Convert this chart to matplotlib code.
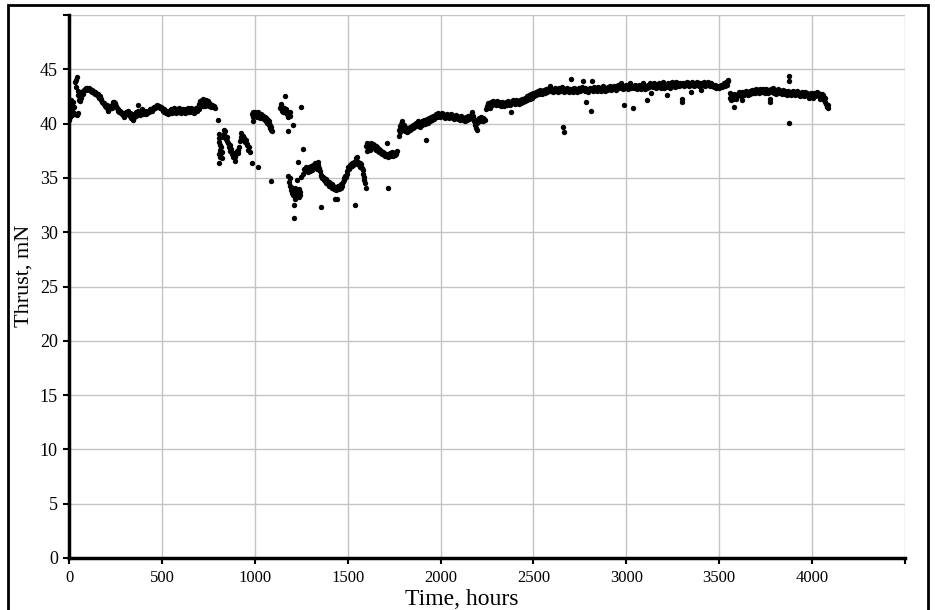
import matplotlib
matplotlib.use("Agg")
import matplotlib.pyplot as plt
from matplotlib.patches import Rectangle

# thrust readings (hours, mN), split by run section
seg_start = [(1, 40.3), (2, 41.0), (3, 41.6), (5, 42.1), (6, 40.6), (8, 41.9), (10, 42.2), (12, 41.3),
             (14, 40.8), (16, 41.7), (19, 42.0), (22, 41.1), (25, 40.9), (28, 41.5), (32, 43.8), (36, 44.0),
             (40, 43.4), (42, 40.8), (44, 44.3), (46, 43.0), (48, 41.0), (50, 42.6), (53, 42.2), (56, 42.5),
             (60, 42.1), (63, 42.8), (66, 42.4), (70, 42.9), (74, 43.0), (78, 42.7), (82, 43.1), (86, 43.2),
             (90, 43.3), (94, 43.1), (98, 43.3), (102, 43.2), (106, 43.3), (110, 43.1), (114, 43.2),
             (118, 43.0), (122, 43.1), (126, 42.9), (130, 43.0)]

seg_decay = [(134, 42.8), (138, 42.9), (142, 42.7), (146, 42.8), (150, 42.6), (154, 42.7), (158, 42.5),
             (162, 42.4), (166, 42.5), (170, 42.2), (174, 42.3), (178, 42.0), (182, 41.9), (186, 41.8),
             (190, 41.9), (194, 41.6), (198, 41.5), (202, 41.7), (206, 41.4), (210, 41.2), (214, 41.4),
             (218, 41.3), (222, 41.5), (226, 41.6), (230, 41.4), (234, 41.7), (238, 42.0), (242, 42.0),
             (246, 41.8), (250, 41.9), (254, 41.6), (258, 41.4), (262, 41.2), (266, 41.3), (270, 41.1),
             (274, 41.2), (278, 41.0), (282, 41.1), (286, 40.9), (290, 40.8), (294, 40.6), (298, 40.7),
             (302, 41.0), (306, 41.1), (310, 40.9), (314, 41.0), (318, 41.2), (322, 40.8), (326, 41.0),
             (330, 40.7), (334, 40.5), (338, 40.9), (342, 40.4), (346, 40.3), (350, 40.6), (354, 40.9),
             (358, 41.1), (362, 40.7), (366, 41.0), (370, 41.2), (374, 41.7), (378, 41.0), (382, 40.8),
             (386, 41.1), (390, 41.0), (394, 41.3), (398, 40.9)]

seg_flat = [(402, 41.1), (406, 41.0), (410, 41.2), (414, 40.9), (418, 41.1), (422, 41.0), (426, 41.2),
            (430, 41.1), (434, 41.3), (438, 41.2), (442, 41.3), (446, 41.2), (450, 41.4), (454, 41.3),
            (458, 41.5), (462, 41.4), (466, 41.6), (470, 41.5), (474, 41.7), (478, 41.6), (482, 41.5),
            (486, 41.6), (490, 41.4), (494, 41.5), (498, 41.3), (502, 41.4), (506, 41.2), (510, 41.3),
            (514, 41.1), (518, 41.2), (522, 41.0), (526, 41.2), (530, 41.1), (534, 40.9), (538, 41.2),
            (542, 41.0), (546, 41.1), (550, 41.3), (554, 41.0), (558, 41.2), (562, 41.1), (566, 41.4),
            (570, 41.2), (574, 41.0), (578, 41.3), (582, 41.1), (586, 41.2), (590, 41.4), (594, 41.1),
            (598, 41.3), (602, 41.0), (606, 41.2), (610, 41.1), (614, 41.3), (618, 41.2), (622, 41.0),
            (626, 41.2), (630, 41.3), (634, 41.1), (638, 41.2), (642, 41.4), (646, 41.1), (650, 41.3),
            (654, 41.2), (658, 41.4), (662, 41.1), (666, 41.3), (670, 41.2), (674, 41.0), (678, 41.3),
            (682, 41.2), (686, 41.4), (690, 41.2), (694, 41.5), (698, 41.3),
            (701, 41.8), (704, 42.1), (706, 41.6), (709, 42.0), (711, 41.7), (714, 42.2), (716, 41.9),
            (719, 41.6), (721, 42.3), (724, 42.0), (726, 41.8), (729, 42.2), (731, 41.6), (734, 42.0),
            (736, 41.9), (739, 42.2), (741, 41.7), (744, 42.0), (746, 41.8), (749, 42.1), (752, 41.9),
            (756, 41.6), (760, 41.8), (764, 41.5), (768, 41.7), (773, 41.6), (778, 41.5), (783, 41.6),
            (788, 41.4)]

seg_drop1 = [(803, 40.3), (805, 39.0), (806, 38.7), (808, 36.4), (809, 37.2), (810, 38.3), (812, 37.6),
             (814, 36.9), (815, 38.0), (818, 37.3), (820, 37.8), (822, 36.8), (825, 37.4), (828, 38.8),
             (832, 39.4), (836, 39.0), (840, 39.3), (844, 38.6), (848, 38.8), (852, 38.4), (856, 38.2),
             (860, 37.8), (864, 38.0), (868, 37.5), (872, 37.7), (876, 37.2), (880, 37.4), (884, 36.9),
             (888, 37.0), (892, 36.6), (896, 36.9), (900, 37.2), (904, 37.5), (908, 37.3), (912, 37.6),
             (916, 37.8), (920, 38.4), (924, 38.8), (928, 39.1), (932, 38.6), (936, 38.9), (940, 38.5),
             (944, 38.7), (948, 38.3), (952, 38.5), (956, 38.1), (960, 38.0), (964, 37.6), (968, 37.8),
             (972, 37.4), (983, 36.4), (1016, 36.0)]

seg_recover1 = [(985, 40.9), (988, 41.1), (990, 40.6), (992, 40.2), (993, 41.0), (996, 40.8), (999, 41.1),
                (1002, 40.7), (1005, 40.9), (1008, 41.0), (1011, 40.6), (1014, 40.8), (1017, 40.9),
                (1020, 41.1), (1023, 40.7), (1026, 40.8), (1029, 40.5), (1032, 40.9), (1035, 40.6),
                (1038, 40.8), (1041, 40.5), (1044, 40.7), (1047, 40.4), (1050, 40.6), (1053, 40.3),
                (1056, 40.6), (1059, 40.5), (1062, 40.2), (1065, 40.4), (1068, 40.1), (1071, 40.3),
                (1074, 39.9), (1077, 40.2), (1080, 39.6), (1083, 39.9), (1086, 39.4), (1090, 39.7),
                (1094, 39.3), (1136, 41.4), (1139, 41.8), (1142, 41.6), (1145, 41.2), (1148, 41.5),
                (1151, 41.3), (1154, 41.1), (1157, 41.4), (1160, 42.5), (1163, 41.2), (1166, 41.0),
                (1169, 41.3), (1172, 40.9), (1175, 41.1), (1178, 40.6), (1181, 41.0), (1184, 40.8),
                (1187, 41.1), (1190, 40.7), (1177, 39.3), (1204, 39.9), (1247, 41.5)]

seg_drop2 = [(1086, 34.7), (1177, 35.2), (1185, 34.6), (1188, 34.3), (1190, 35.0), (1193, 33.9), (1196, 34.2),
             (1199, 33.6), (1202, 34.0), (1205, 33.4), (1208, 33.8), (1210, 32.5), (1212, 31.3), (1214, 33.1),
             (1216, 33.7), (1219, 34.1), (1222, 33.3), (1225, 34.8), (1228, 33.9), (1231, 36.5), (1234, 33.5),
             (1237, 34.0), (1240, 33.2), (1243, 33.7), (1246, 33.4), (1250, 35.1), (1258, 37.7), (1262, 35.4),
             (1266, 35.8), (1270, 35.6), (1274, 36.0), (1278, 35.7), (1282, 35.9), (1286, 35.5), (1290, 36.0),
             (1294, 35.8), (1298, 35.6), (1302, 36.1), (1306, 35.9), (1310, 35.7), (1314, 36.2), (1318, 36.0),
             (1322, 36.4), (1326, 36.1), (1330, 36.3), (1334, 35.8), (1338, 36.5), (1342, 36.2), (1346, 35.9),
             (1350, 35.6), (1354, 35.2), (1355, 32.3), (1358, 35.3), (1362, 35.0), (1366, 35.1), (1370, 34.8),
             (1374, 35.0), (1378, 34.7), (1382, 34.9), (1386, 34.5), (1390, 34.7), (1394, 34.4), (1398, 34.6),
             (1402, 34.3), (1406, 34.5), (1410, 34.2), (1414, 34.4), (1418, 34.1), (1422, 34.3), (1426, 34.0),
             (1430, 33.1), (1434, 34.2), (1438, 33.9), (1442, 33.1), (1446, 34.1), (1450, 34.3), (1454, 34.0),
             (1458, 34.2), (1462, 34.4), (1466, 34.1), (1470, 34.3), (1474, 34.6), (1478, 34.8), (1482, 35.0),
             (1486, 35.2), (1490, 35.1), (1494, 35.4), (1498, 35.6), (1502, 36.0), (1506, 35.8), (1510, 36.2),
             (1514, 36.0), (1518, 36.3), (1522, 36.1), (1526, 36.4), (1530, 36.2), (1534, 36.5), (1538, 32.5),
             (1540, 36.3), (1544, 36.8), (1548, 36.4), (1552, 36.9), (1556, 36.5), (1560, 36.2), (1564, 36.4),
             (1568, 36.0), (1572, 36.3), (1576, 35.9), (1580, 35.7), (1584, 35.4), (1588, 35.1), (1590, 34.8),
             (1593, 34.5), (1596, 34.1)]

seg_rise1 = [(1600, 37.9), (1603, 38.2), (1606, 37.5), (1610, 37.8), (1614, 38.1), (1618, 37.6), (1622, 38.0),
             (1626, 38.2), (1630, 37.8), (1634, 38.1), (1638, 37.9), (1642, 38.0), (1646, 37.7), (1650, 37.9),
             (1654, 37.6), (1658, 37.8), (1662, 37.5), (1666, 37.7), (1670, 37.4), (1674, 37.6), (1678, 37.3),
             (1682, 37.5), (1686, 37.2), (1690, 37.4), (1694, 37.1), (1698, 37.3), (1702, 37.0), (1706, 37.2),
             (1710, 38.2), (1714, 37.1), (1715, 34.1), (1718, 36.9), (1722, 37.2), (1726, 37.0), (1730, 37.3),
             (1734, 37.1), (1738, 37.4), (1742, 37.2), (1746, 37.0), (1750, 37.3), (1754, 37.1), (1758, 37.4),
             (1762, 37.2), (1766, 37.5)]

seg_rise2 = [(1775, 38.9), (1778, 39.4), (1781, 39.8), (1784, 39.2), (1787, 40.0), (1790, 39.6), (1793, 40.2),
             (1796, 39.8), (1799, 39.5), (1802, 39.9), (1805, 39.4), (1808, 39.7), (1811, 39.3), (1814, 39.6),
             (1818, 39.2), (1822, 39.5), (1826, 39.3), (1830, 39.6), (1834, 39.4), (1838, 39.7), (1842, 39.5),
             (1846, 39.8), (1850, 39.6), (1854, 39.9), (1858, 39.7), (1862, 40.0), (1866, 39.8), (1870, 40.1),
             (1874, 39.9), (1878, 40.2), (1882, 39.9), (1886, 40.1), (1890, 39.7), (1894, 40.0), (1898, 40.2),
             (1902, 39.9), (1906, 40.1), (1910, 40.3), (1914, 40.0), (1919, 38.5), (1922, 40.2), (1926, 40.4),
             (1930, 40.1), (1934, 40.3), (1938, 40.5), (1942, 40.2), (1946, 40.4), (1950, 40.6), (1954, 40.3),
             (1958, 40.5), (1962, 40.7), (1966, 40.4), (1970, 40.6), (1974, 40.8)]

seg_mid = [(1978, 40.9), (1982, 40.6), (1986, 41.0), (1990, 40.7), (1994, 40.9), (1998, 40.6), (2002, 40.8),
           (2006, 41.0), (2010, 40.7), (2014, 40.9), (2018, 40.6), (2022, 40.8), (2026, 40.5), (2030, 40.7),
           (2034, 40.9), (2038, 40.6), (2042, 40.8), (2046, 40.5), (2050, 40.7), (2054, 40.9), (2058, 40.6),
           (2062, 40.8), (2066, 40.5), (2070, 40.7), (2074, 40.4), (2078, 40.6), (2082, 40.8), (2086, 40.5),
           (2090, 40.7), (2094, 40.4), (2098, 40.6), (2102, 40.3), (2106, 40.5), (2110, 40.7), (2114, 40.4),
           (2118, 40.6), (2122, 40.3), (2126, 40.5), (2130, 40.2), (2134, 40.4), (2138, 40.6), (2142, 40.3),
           (2146, 40.5), (2150, 40.7), (2154, 40.4), (2158, 40.6), (2162, 40.8), (2166, 40.5), (2170, 41.1),
           (2174, 40.7), (2178, 40.4), (2182, 40.2), (2186, 39.9), (2190, 39.6), (2194, 40.1), (2198, 39.4),
           (2202, 40.3), (2206, 40.5), (2210, 40.2), (2214, 40.4), (2218, 40.6), (2222, 40.3), (2226, 40.5),
           (2230, 40.2), (2234, 40.4), (2238, 40.3)]

seg_climb = [(2245, 41.3), (2250, 41.6), (2255, 41.9), (2260, 41.5), (2264, 41.7), (2268, 41.4), (2272, 42.0),
             (2276, 41.7), (2280, 41.9), (2284, 42.1), (2288, 41.8), (2292, 42.0), (2296, 41.7), (2300, 41.9),
             (2304, 42.1), (2308, 41.8), (2312, 42.0), (2316, 41.7), (2320, 41.9), (2324, 41.6), (2328, 41.8),
             (2332, 42.0), (2336, 41.7), (2340, 41.9), (2344, 41.6), (2348, 41.8), (2352, 42.0), (2356, 41.7),
             (2360, 41.9), (2364, 42.1), (2368, 41.8), (2372, 42.0), (2376, 41.7), (2381, 41.1), (2384, 41.9),
             (2388, 42.2), (2392, 41.9), (2396, 42.1), (2400, 41.8), (2404, 42.0), (2408, 42.2), (2412, 41.9),
             (2416, 42.1), (2420, 41.8), (2424, 42.0), (2428, 42.2), (2432, 41.9), (2436, 42.1), (2440, 42.3),
             (2444, 42.0), (2448, 42.2), (2452, 42.4), (2456, 42.1), (2460, 42.3), (2464, 42.5), (2468, 42.2),
             (2472, 42.4), (2476, 42.6), (2480, 42.3), (2484, 42.5), (2488, 42.7), (2492, 42.4), (2496, 42.6),
             (2500, 42.8), (2504, 42.5), (2508, 42.7), (2512, 42.9), (2516, 42.6), (2520, 42.8), (2524, 43.0),
             (2528, 42.7), (2532, 42.9), (2536, 43.1), (2540, 42.8), (2544, 43.0), (2548, 42.7), (2552, 42.9),
             (2556, 43.1)]

seg_plateau = [(2560, 42.8), (2565, 43.0), (2570, 43.2), (2575, 42.9), (2580, 43.1), (2585, 43.3), (2590, 43.5),
               (2595, 43.0), (2600, 43.2), (2605, 42.9), (2610, 43.1), (2615, 43.3), (2620, 43.0), (2625, 43.2),
               (2630, 42.9), (2635, 43.1), (2640, 43.3), (2645, 43.0), (2650, 43.2), (2655, 43.4), (2661, 39.7),
               (2667, 39.2), (2660, 43.1), (2665, 42.9), (2670, 43.2), (2675, 43.0), (2680, 43.3), (2685, 43.1),
               (2690, 42.9), (2695, 43.2), (2700, 43.0), (2704, 44.1), (2708, 43.2), (2712, 42.9), (2716, 43.1),
               (2720, 43.3), (2725, 43.0), (2730, 43.2), (2735, 42.9), (2740, 43.1), (2745, 43.3), (2750, 43.0),
               (2755, 43.2), (2760, 43.4), (2765, 43.9), (2770, 43.1), (2775, 43.3), (2780, 43.0), (2785, 42.0),
               (2790, 43.2), (2795, 42.9), (2800, 43.1), (2805, 43.3), (2812, 41.2), (2815, 43.9), (2818, 43.0),
               (2822, 43.2), (2826, 43.4), (2830, 43.1), (2835, 43.3), (2840, 43.0), (2845, 43.2), (2850, 43.4),
               (2855, 43.1), (2860, 43.3), (2865, 43.0), (2870, 43.2), (2875, 43.5), (2880, 43.2), (2885, 43.0),
               (2890, 43.3), (2895, 43.1), (2900, 43.4), (2905, 43.2), (2910, 43.5), (2915, 43.3), (2920, 43.1),
               (2925, 43.4), (2930, 43.2), (2935, 43.5), (2940, 43.3), (2945, 43.1), (2950, 43.4), (2955, 43.6),
               (2960, 43.3), (2965, 43.5), (2970, 43.7), (2975, 43.4), (2980, 43.2), (2985, 43.5), (2989, 41.7),
               (2995, 43.3), (3000, 43.6), (3005, 43.4), (3010, 43.2), (3015, 43.5), (3020, 43.7), (3025, 43.3),
               (3030, 43.5), (3037, 41.4), (3040, 43.3), (3045, 43.6), (3050, 43.4), (3055, 43.2), (3060, 43.5),
               (3065, 43.3), (3070, 43.6), (3075, 43.4), (3080, 43.2), (3085, 43.5), (3090, 43.7), (3095, 43.4),
               (3100, 43.2), (3105, 43.5), (3110, 43.3), (3113, 42.2), (3118, 43.6), (3122, 43.4), (3126, 43.7),
               (3130, 43.5), (3135, 42.8), (3140, 43.6), (3145, 43.4), (3150, 43.7), (3155, 43.5), (3160, 43.3),
               (3165, 43.6), (3170, 43.4), (3175, 43.7), (3180, 43.5), (3185, 43.3), (3190, 43.6), (3195, 43.8),
               (3200, 43.5), (3205, 43.3), (3210, 43.6), (3215, 43.4), (3220, 42.6), (3225, 43.7), (3230, 43.5),
               (3235, 43.3), (3240, 43.6), (3245, 43.8), (3250, 43.5), (3255, 43.7), (3260, 43.4), (3265, 43.6),
               (3270, 43.8), (3275, 43.5), (3280, 43.7), (3285, 43.5), (3290, 43.7), (3296, 43.6), (3300, 42.3),
               (3301, 42.0), (3305, 43.7), (3310, 43.5), (3315, 43.7), (3320, 43.6), (3325, 43.8), (3330, 43.6),
               (3335, 43.5), (3340, 43.7), (3345, 43.6), (3349, 42.9), (3352, 43.8), (3356, 43.6), (3360, 43.7),
               (3365, 43.5), (3370, 43.7), (3375, 43.6), (3380, 43.8), (3385, 43.6), (3390, 43.5), (3395, 43.7),
               (3400, 43.6), (3403, 43.1), (3408, 43.7), (3412, 43.6), (3416, 43.8), (3420, 43.6), (3425, 43.5),
               (3430, 43.7), (3435, 43.6), (3440, 43.8), (3445, 43.6), (3450, 43.5), (3455, 43.7), (3460, 43.5),
               (3465, 43.6), (3470, 43.4), (3475, 43.6), (3480, 43.5), (3485, 43.3), (3490, 43.5), (3495, 43.4),
               (3500, 43.3), (3505, 43.5), (3510, 43.6), (3515, 43.4), (3520, 43.6), (3525, 43.7), (3530, 43.5),
               (3535, 43.8), (3540, 43.6), (3545, 43.9), (3548, 44.0)]

seg_end = [(3557, 42.8), (3560, 42.4), (3563, 42.6), (3566, 42.2), (3570, 42.5), (3574, 42.3), (3578, 42.7),
           (3580, 41.5), (3584, 42.4), (3588, 42.6), (3592, 42.3), (3596, 42.5), (3600, 42.7), (3604, 42.9),
           (3608, 42.6), (3612, 42.8), (3616, 42.5), (3620, 42.9), (3624, 42.2), (3628, 42.7), (3632, 42.9),
           (3636, 42.6), (3640, 42.8), (3644, 43.0), (3648, 42.7), (3652, 42.9), (3656, 42.6), (3660, 42.8),
           (3664, 43.0), (3668, 42.7), (3672, 42.9), (3676, 43.1), (3680, 42.8), (3684, 43.0), (3688, 43.1),
           (3692, 42.8), (3696, 43.0), (3700, 43.2), (3704, 42.9), (3708, 43.1), (3712, 42.8), (3716, 43.0),
           (3720, 43.2), (3724, 42.9), (3728, 43.1), (3732, 42.9), (3736, 43.2), (3740, 43.0), (3744, 42.8),
           (3748, 43.1), (3752, 43.2), (3756, 42.9), (3760, 43.1), (3764, 42.8), (3768, 43.0), (3772, 42.3),
           (3776, 42.0), (3780, 43.2), (3784, 42.9), (3788, 43.3), (3792, 43.0), (3796, 42.8), (3800, 43.1),
           (3804, 42.9), (3808, 42.7), (3812, 43.0), (3816, 43.2), (3820, 42.9), (3824, 43.1), (3828, 42.8),
           (3832, 43.0), (3836, 42.7), (3840, 42.9), (3844, 43.1), (3848, 42.8), (3852, 43.0), (3856, 42.7),
           (3860, 42.9), (3864, 42.6), (3868, 42.8), (3872, 43.0), (3876, 44.4), (3877, 43.9), (3878, 40.1),
           (3880, 42.7), (3884, 42.9), (3888, 42.6), (3892, 42.8), (3896, 43.0), (3900, 42.7), (3904, 42.9),
           (3908, 42.6), (3912, 42.8), (3916, 43.0), (3920, 42.7), (3924, 42.9), (3928, 42.6), (3932, 42.8),
           (3936, 42.5), (3940, 42.7), (3944, 42.9), (3948, 42.6), (3952, 42.8), (3956, 42.5), (3960, 42.7),
           (3964, 42.9), (3968, 42.6), (3972, 42.8), (3976, 42.5), (3980, 42.7), (3984, 42.4), (3988, 42.6),
           (3992, 42.8), (3996, 42.5), (4000, 42.7), (4004, 42.4), (4008, 42.6), (4012, 42.8), (4016, 42.5),
           (4020, 42.7), (4024, 42.9), (4028, 42.6), (4032, 42.8), (4036, 42.5), (4040, 42.7), (4044, 42.3),
           (4048, 42.5), (4052, 42.7), (4056, 42.4), (4060, 42.6), (4064, 42.2), (4068, 42.4), (4072, 42.0),
           (4076, 41.8), (4080, 41.5), (4084, 41.7), (4088, 41.4)]

segments = [seg_start, seg_decay, seg_flat, seg_drop1, seg_recover1, seg_drop2,
            seg_rise1, seg_rise2, seg_mid, seg_climb, seg_plateau, seg_end]

x_ticks = [0, 500, 1000, 1500, 2000, 2500, 3000, 3500, 4000, 4500]
y_ticks = [0, 5, 10, 15, 20, 25, 30, 35, 40, 45, 50]

plt.rcParams['font.family'] = ['Liberation Serif', 'DejaVu Serif']

fig = plt.figure(figsize=(9.35, 6.1), dpi=100)
ax = fig.add_axes([69 / 935, 52 / 610, 836 / 935, 543 / 610])

for seg in segments:
    t = [p[0] for p in seg]
    f = [p[1] for p in seg]
    ax.scatter(t, f, s=15, c='black', linewidths=0, zorder=3)

ax.set_xlim(0, 4500)
ax.set_ylim(0, 50)
ax.set_xticks(x_ticks)
ax.set_xticklabels([str(v) for v in x_ticks[:-1]] + [''])
ax.set_yticks(y_ticks)
ax.set_yticklabels([str(v) for v in y_ticks[:-1]] + [''])
ax.grid(True, color='#c4c4c4', linewidth=1)
ax.set_axisbelow(True)

for side in ['top', 'right']:
    ax.spines[side].set_visible(False)
for side in ['left', 'bottom']:
    ax.spines[side].set_linewidth(2.5)
    ax.spines[side].set_color('black')

ax.tick_params(axis='both', direction='out', length=4, width=1.5, colors='black')
ax.tick_params(axis='x', labelsize=12, pad=5)
ax.tick_params(axis='y', labelsize=13, pad=4)

ax.set_xlabel('Time, hours', fontsize=17, labelpad=0)
ax.set_ylabel('Thrust, mN', fontsize=16, labelpad=6)
ax.xaxis.set_label_coords(393 / 836, -0.058)
ax.yaxis.set_label_coords(-0.043, 0.52)

# outer frame around the whole picture
fig.patches.append(Rectangle((8 / 935, -0.05), 920 / 935, 605 / 610 + 0.05,
                             transform=fig.transFigure, fill=False,
                             edgecolor='black', linewidth=2))

fig.savefig('out.png', dpi=100)
